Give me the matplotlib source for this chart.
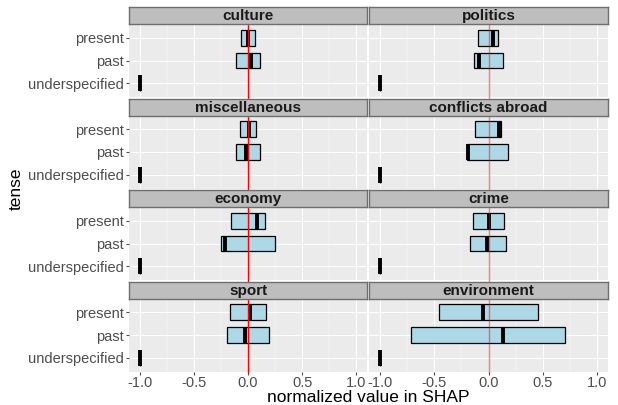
import matplotlib
matplotlib.use("Agg")
import matplotlib.pyplot as plt
import numpy as np
from matplotlib.lines import Line2D
from matplotlib.ticker import MultipleLocator

plt.rcParams["font.family"] = ["Liberation Sans", "DejaVu Sans"]

# facets in reading order (row-major, two columns)
TOPICS = ["culture", "politics", "miscellaneous", "conflicts abroad",
          "economy", "crime", "sport", "environment"]
TENSES = ["underspecified", "past", "present"]

# lower / median / upper of normalized SHAP per topic
PRESENT_LO = [-0.065, -0.095, -0.07, -0.12, -0.155, -0.145, -0.166, -0.46]
PRESENT_MED = [0.0, 0.04, 0.012, 0.095, 0.086, 0.005, 0.02, -0.05]
PRESENT_HI = [0.065, 0.092, 0.07, 0.115, 0.157, 0.14, 0.17, 0.46]
PAST_LO = [-0.11, -0.135, -0.11, -0.20, -0.25, -0.17, -0.194, -0.71]
PAST_MED = [0.025, -0.09, -0.02, -0.19, -0.215, -0.01, -0.028, 0.13]
PAST_HI = [0.11, 0.13, 0.115, 0.18, 0.25, 0.165, 0.194, 0.70]
UNDER_MED = [-1.0] * 8

W, H = 618, 405
fig = plt.figure(figsize=(W / 100, H / 100), dpi=100)

col_x = [(129, 367), (369, 608)]
strip_top = [7, 98.5, 190, 281.5]
strip_h, panel_h = 17, 73
grey = "#4D4D4D"
XLIM = (-1.1, 1.1)

for i, topic in enumerate(TOPICS):
    r, c = divmod(i, 2)
    x0, x1 = col_x[c]
    st = strip_top[r]
    # strip with facet title, kept above the reference line
    sax = fig.add_axes([x0 / W, 1 - (st + strip_h) / H, (x1 - x0) / W, strip_h / H],
                       zorder=5)
    sax.set_facecolor("#BEBEBE")
    sax.set_xticks([]); sax.set_yticks([])
    for s in sax.spines.values():
        s.set_color("#6E6E6E"); s.set_linewidth(1.0)
    sax.text(0.5, 0.45, topic, ha="center", va="center", fontsize=11,
             fontweight="bold", color="#1A1A1A", transform=sax.transAxes)

    pt = st + strip_h
    ax = fig.add_axes([x0 / W, 1 - (pt + panel_h) / H, (x1 - x0) / W, panel_h / H])
    ax.set_facecolor("#EBEBEB")
    for s in ax.spines.values():
        s.set_visible(False)
    ax.set_xlim(*XLIM)
    ax.set_ylim(0.4, 3.6)
    ax.xaxis.set_major_locator(MultipleLocator(0.5))
    ax.xaxis.set_minor_locator(MultipleLocator(0.25))
    ax.set_yticks([1, 2, 3])
    ax.grid(which="major", color="white", lw=0.7)
    ax.grid(which="minor", axis="x", color="white", lw=0.35)
    ax.set_axisbelow(True)
    ax.tick_params(axis="both", which="major", colors=grey, labelsize=10.5,
                   length=2.5, width=0.8, pad=1.5)
    ax.tick_params(which="minor", length=0)
    if c == 0:
        ax.set_yticklabels(TENSES)
    else:
        ax.tick_params(axis="y", labelleft=False, length=0)
    if r == 3:
        ax.set_xticks([-1.0, -0.5, 0.0, 0.5, 1.0])
        ax.set_xticklabels(["-1.0", "-0.5", "0.0", "0.5", "1.0"])
        ax.tick_params(axis="x", pad=1)
    else:
        ax.tick_params(axis="x", labelbottom=False, length=0)

    lo = [UNDER_MED[i], PAST_LO[i], PRESENT_LO[i]]
    hi = [UNDER_MED[i], PAST_HI[i], PRESENT_HI[i]]
    med = [UNDER_MED[i], PAST_MED[i], PRESENT_MED[i]]
    ys = np.array([1, 2, 3])
    ax.barh(ys, np.array(hi) - np.array(lo), left=lo, height=0.7,
            color="#ADD8E6", edgecolor="black", linewidth=0.9, zorder=2)
    ax.vlines(med, ys - 0.35, ys + 0.35, color="black", lw=2.8, zorder=3)

# zero line runs through each column, hidden only behind the strips
for c, (x0, x1) in enumerate(col_x):
    xz = x0 + (0 - XLIM[0]) / (XLIM[1] - XLIM[0]) * (x1 - x0)
    y_top = 1 - (strip_top[0] + strip_h) / H
    y_bot = 1 - (strip_top[-1] + strip_h + panel_h) / H
    fig.add_artist(Line2D([xz / W, xz / W], [y_bot, y_top], color="red", lw=1.0,
                          alpha=1.0 if c == 0 else 0.5, zorder=3))

fig.text(16 / W, 1 - 189 / H, "tense", rotation=90, ha="center", va="center",
         fontsize=12.5)
fig.text(368 / W, 1 - 397 / H, "normalized value in SHAP", ha="center",
         va="center", fontsize=12.5)

fig.savefig("out.png", dpi=100)
